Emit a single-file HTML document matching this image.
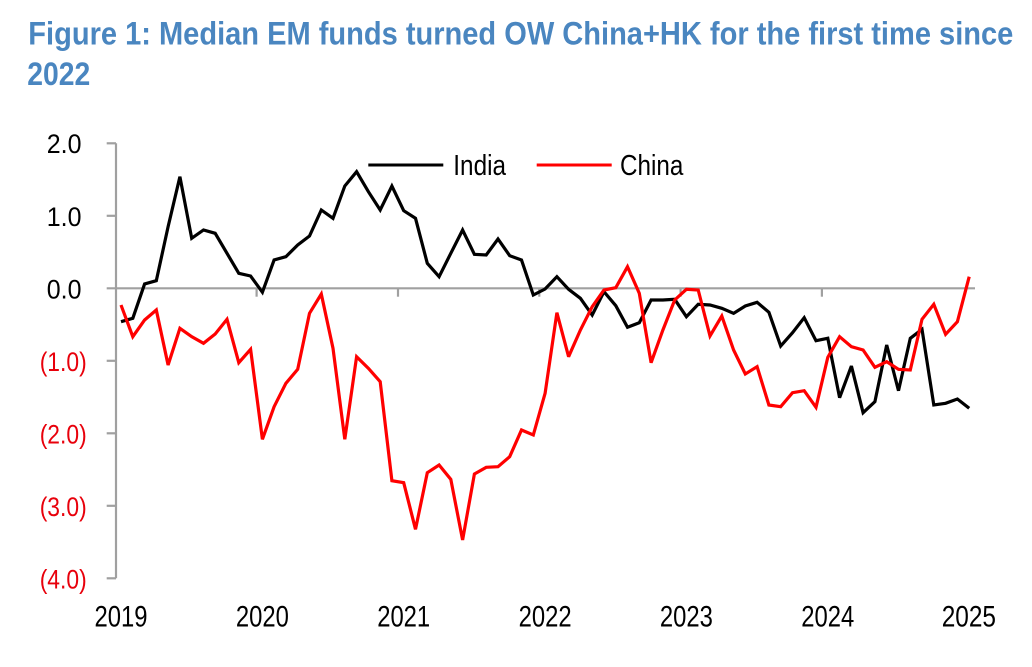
<!DOCTYPE html>
<html>
<head>
<meta charset="utf-8">
<style>
  html, body { margin: 0; padding: 0; background: #ffffff; }
  body { width: 1032px; height: 667px; overflow: hidden; }
  svg { display: block; }
  text { font-family: "Liberation Sans", Arial, sans-serif; }
</style>
</head>
<body>
<svg width="1032" height="667" viewBox="0 0 1032 667" xmlns="http://www.w3.org/2000/svg">
  <rect width="1032" height="667" fill="#ffffff"/>

  <!-- Title -->
  <text x="28.3" y="44.5" font-size="32" font-weight="bold" fill="#4a86c0" textLength="985" lengthAdjust="spacingAndGlyphs">Figure 1: Median EM funds turned OW China+HK for the first time since</text>
  <text x="27.3" y="85" font-size="32" font-weight="bold" fill="#4a86c0" textLength="63" lengthAdjust="spacingAndGlyphs">2022</text>

  <!-- Axes -->
  <g stroke="#a0a0a0" stroke-width="2.2" fill="none">
    <line x1="116" y1="143.3" x2="116" y2="578.3"/>
    <line x1="106.7" y1="143.3" x2="116" y2="143.3"/>
    <line x1="106.7" y1="215.8" x2="116" y2="215.8"/>
    <line x1="106.7" y1="360.8" x2="116" y2="360.8"/>
    <line x1="106.7" y1="433.3" x2="116" y2="433.3"/>
    <line x1="106.7" y1="505.8" x2="116" y2="505.8"/>
    <line x1="106.7" y1="578.3" x2="116" y2="578.3"/>
    <line x1="106.7" y1="288.3" x2="975" y2="288.3"/>
    <line x1="256.6" y1="288.3" x2="256.6" y2="296.7"/>
    <line x1="398" y1="288.3" x2="398" y2="296.7"/>
    <line x1="539.3" y1="288.3" x2="539.3" y2="296.7"/>
    <line x1="680.6" y1="288.3" x2="680.6" y2="296.7"/>
    <line x1="821.9" y1="288.3" x2="821.9" y2="296.7"/>
  </g>

  <!-- Y labels -->
  <g font-size="27" text-anchor="end">
    <text x="81.5" y="153" fill="#000" textLength="34.7" lengthAdjust="spacingAndGlyphs">2.0</text>
    <text x="81.5" y="225.8" fill="#000" textLength="34.7" lengthAdjust="spacingAndGlyphs">1.0</text>
    <text x="81.5" y="298.3" fill="#000" textLength="34.7" lengthAdjust="spacingAndGlyphs">0.0</text>
    <text x="86.7" y="370.8" fill="#e8000b" textLength="47" lengthAdjust="spacingAndGlyphs">(1.0)</text>
    <text x="86.7" y="443.3" fill="#e8000b" textLength="47" lengthAdjust="spacingAndGlyphs">(2.0)</text>
    <text x="86.7" y="515.8" fill="#e8000b" textLength="47" lengthAdjust="spacingAndGlyphs">(3.0)</text>
    <text x="86.7" y="588.3" fill="#e8000b" textLength="47" lengthAdjust="spacingAndGlyphs">(4.0)</text>
  </g>

  <!-- X labels -->
  <g font-size="30" fill="#000">
    <text x="94.5" y="626.7" textLength="53" lengthAdjust="spacingAndGlyphs">2019</text>
    <text x="235.9" y="626.7" textLength="53" lengthAdjust="spacingAndGlyphs">2020</text>
    <text x="377.2" y="626.7" textLength="53" lengthAdjust="spacingAndGlyphs">2021</text>
    <text x="518.6" y="626.7" textLength="53" lengthAdjust="spacingAndGlyphs">2022</text>
    <text x="659.9" y="626.7" textLength="53" lengthAdjust="spacingAndGlyphs">2023</text>
    <text x="801.3" y="626.7" textLength="53" lengthAdjust="spacingAndGlyphs">2024</text>
    <text x="941.7" y="626.7" textLength="54.3" lengthAdjust="spacingAndGlyphs">2025</text>
  </g>

  <!-- Legend -->
  <line x1="368.3" y1="165" x2="443.3" y2="165" stroke="#000" stroke-width="3"/>
  <text x="453.3" y="175" font-size="29" fill="#000" textLength="52.7" lengthAdjust="spacingAndGlyphs">India</text>
  <line x1="536.7" y1="165" x2="611.7" y2="165" stroke="#ff0000" stroke-width="3"/>
  <text x="620" y="175" font-size="29" fill="#000" textLength="63.3" lengthAdjust="spacingAndGlyphs">China</text>

  <!-- India series -->
  <path fill="none" stroke="#000000" stroke-width="3.2" stroke-linejoin="miter" stroke-miterlimit="3"
    d="M121.0,321.7 L132.8,318.3 L144.6,284 L156.3,280.7 L168.1,226.7 L179.9,176.7 L191.7,238.3 L203.5,230 L215.2,233.3 L227.0,253.3 L238.8,273.3 L250.6,276 L262.4,292.3 L274.1,260 L285.9,256.7 L297.7,245 L309.5,236 L321.3,210 L333.0,218.3 L344.8,186 L356.6,171.7 L368.4,191.7 L380.2,210 L391.9,186 L403.7,210.7 L415.5,218.3 L427.3,263.3 L439.1,276.7 L450.8,253.3 L462.6,230 L474.4,254.3 L486.2,255 L498.0,239 L509.7,255.7 L521.5,260 L533.3,295 L545.1,289 L556.9,276.7 L568.6,289.3 L580.4,298.3 L592.2,315 L604.0,291.7 L615.8,305.7 L627.5,327.3 L639.3,322.7 L651.1,300 L662.9,300 L674.7,299.3 L686.4,316.7 L698.2,304.3 L710.0,305 L721.8,308.3 L733.6,313.3 L745.3,306 L757.1,302.3 L768.9,312.3 L780.7,346 L792.5,332.7 L804.2,317.7 L816.0,340.7 L827.8,338.3 L839.6,397.7 L851.4,366 L863.1,412.7 L874.9,401.7 L886.7,345 L898.5,390.7 L910.3,338.3 L922.0,329.3 L933.8,405 L945.6,403.3 L957.4,399 L969.2,408.3"/>

  <!-- China series -->
  <path fill="none" stroke="#ff0000" stroke-width="3.2" stroke-linejoin="miter" stroke-miterlimit="3"
    d="M121.0,305 L132.8,336.7 L144.6,320 L156.3,310 L168.1,365 L179.9,328.3 L191.7,336.7 L203.5,343.3 L215.2,334 L227.0,319.3 L238.8,362.7 L250.6,349.3 L262.4,439.3 L274.1,406.7 L285.9,383.3 L297.7,369.3 L309.5,313.3 L321.3,294 L333.0,348.3 L344.8,439.3 L356.6,356.7 L368.4,368.3 L380.2,381.7 L391.9,480.7 L403.7,482.7 L415.5,529.3 L427.3,472.7 L439.1,465 L450.8,479.3 L462.6,540 L474.4,474 L486.2,467.3 L498.0,466.7 L509.7,456.7 L521.5,430 L533.3,435 L545.1,393.3 L556.9,312.7 L568.6,356.7 L580.4,330 L592.2,306.7 L604.0,290 L615.8,287.7 L627.5,266.7 L639.3,293.3 L651.1,362.7 L662.9,330 L674.7,300 L686.4,289.3 L698.2,290 L710.0,336 L721.8,316 L733.6,350 L745.3,374 L757.1,366.7 L768.9,405 L780.7,406.7 L792.5,392.7 L804.2,390.7 L816.0,407.3 L827.8,357.3 L839.6,336.7 L851.4,346.7 L863.1,350 L874.9,367.3 L886.7,361.7 L898.5,369.3 L910.3,370 L922.0,319.3 L933.8,304.3 L945.6,334.3 L957.4,321.7 L969.2,276.7"/>
</svg>
</body>
</html>
